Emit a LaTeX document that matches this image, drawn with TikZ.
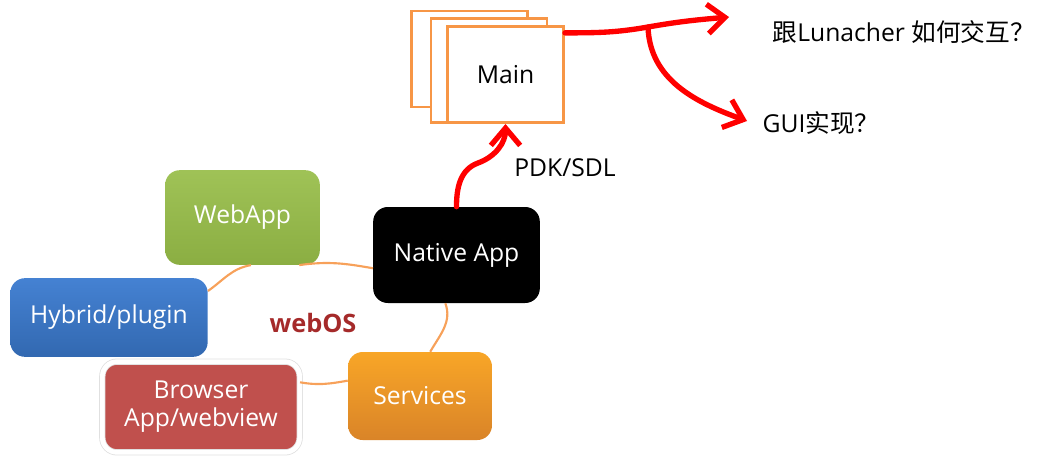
\documentclass[tikz,border=0pt]{standalone}
\usepackage{fontspec}
\setmainfont{Open Sans}
\newfontfamily\cjk{Noto Sans CJK SC}
\usetikzlibrary{arrows.meta}

\definecolor{webgreen}{HTML}{97BD48}
\definecolor{hybblue}{HTML}{3B7BD0}
\definecolor{brred}{HTML}{C0504D}
\definecolor{svcorange}{HTML}{F7962E}
\definecolor{mainorange}{HTML}{F79646}
\definecolor{ringorange}{HTML}{F7A15A}
\definecolor{osred}{HTML}{A52A2A}

\begin{document}
\begin{tikzpicture}[x=0.75pt,y=-0.75pt,
    appbox/.style={rectangle, rounded corners=11pt, text=white, align=center, font=\fontsize{18.5}{21}\selectfont},
    mainbox/.style={rectangle, draw=mainorange, line width=2.2pt, fill=white, minimum width=87pt, minimum height=72pt, font=\fontsize{18.5}{21}\selectfont},
    ring/.style={draw=ringorange, line width=1.6pt},
    redarrow/.style={draw=red, line width=4pt, line cap=round, line join=round, -{Straight Barb[length=13pt,width=22pt]}},
    label/.style={font=\fontsize{18.5}{21}\selectfont}
]
    \useasboundingbox (0,0) rectangle (1048,457);

    % stack of Main windows
    \node[mainbox] (mainback) at (469.5,59) {};
    \node[mainbox, minimum height=78pt] (mainmid) at (489,70.5) {};
    \node[mainbox] (main) at (505.5,74.5) {Main};

    % webOS app kinds
    \node[appbox, minimum width=116pt, minimum height=71pt, top color=webgreen!92!white, bottom color=webgreen!92!black] (webapp) at (242.5,217.5) {WebApp};
    \node[appbox, minimum width=148pt, minimum height=59pt, top color=hybblue!95!white, bottom color=hybblue!85!black] (hybrid) at (109,317.5) {Hybrid/plugin};
    \node[appbox, minimum width=148pt, minimum height=68pt, fill=brred, draw=black!12, double=white, double distance=3.5pt, line width=0.6pt] (browser) at (201,407) {Browser\\App/webview};
    \node[appbox, minimum width=108pt, minimum height=66pt, top color=svcorange!85!yellow, bottom color=svcorange!88!black] (services) at (420,396) {Services};
    \node[appbox, minimum width=125pt, minimum height=72pt, fill=black] (native) at (456.5,255) {Native App};
    \node[label, font=\fontsize{19}{21}\selectfont\bfseries, text=osred] (webos) at (313,323) {webOS};

    % ring
    \draw[ring] (hybrid.15) to[out=35,in=190] (webapp.-80);
    \draw[ring] (webapp.-40) to[out=8,in=170] (native.189);
    \draw[ring] (native.-103) to[out=-70,in=60] (services.77);
    \draw[ring] (services.168) to[out=190,in=-10] (browser.14);

    % questions
    \node[label] (pdk) at (565,168) {PDK/SDL};
    \node[label, anchor=west] (lunacher) at (768,32) {{\cjk 跟}Lunacher {\cjk 如何交互？}};
    \node[label, anchor=west] (gui) at (758,123) {GUI{\cjk 实现？}};
    \coordinate (pdkbend) at (478,163);
    \coordinate (split) at (648,27);
    \coordinate (lunend) at (729,17);
    \coordinate (guiend) at (747,121);

    \draw[redarrow] (native.north) to[out=90,in=200] (pdkbend) to[out=20,in=-90] (main.south);
    \draw[redarrow] (main.35) to[out=0,in=190] (split) to[out=10,in=185] (lunend);
    \draw[redarrow] (split) to[out=-88,in=160] (guiend);
\end{tikzpicture}
\end{document}
